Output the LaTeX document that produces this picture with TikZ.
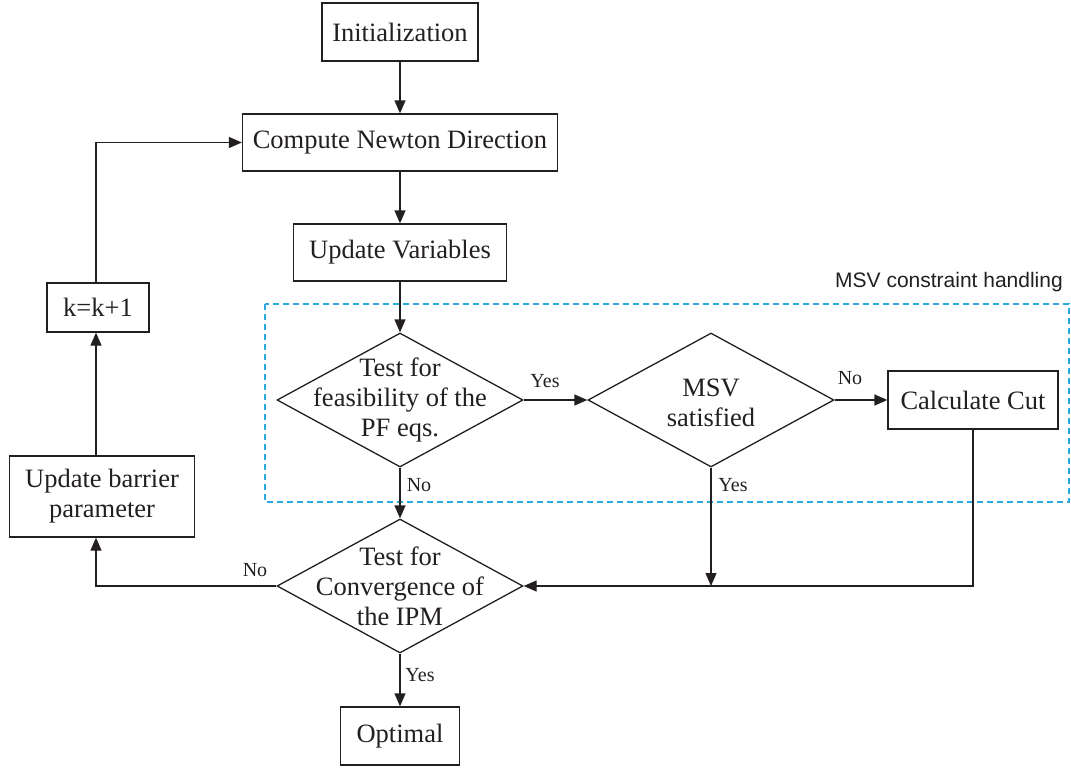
\documentclass[tikz,border=0pt]{standalone}
\usepackage{fontspec}
\setmainfont{Liberation Serif}
\newfontfamily\sansf{Liberation Sans}
\usetikzlibrary{shapes.geometric,arrows.meta}
\definecolor{ink}{HTML}{231F20}
\definecolor{dashc}{HTML}{29ABE2}
\begin{document}
\begin{tikzpicture}[x=1pt,y=-1pt,
 box/.style={draw=ink, line width=1.3pt, text=ink, font=\fontsize{26.5}{30}\selectfont, inner sep=0pt, align=center},
 dia/.style={draw=ink, line width=1.3pt, diamond, minimum width=246pt, minimum height=134pt, inner sep=0pt},
 dtext/.style={text=ink, font=\fontsize{26.5}{30}\selectfont, align=center, inner sep=0pt},
 lab/.style={text=ink, font=\fontsize{20}{22}\selectfont, inner sep=0pt},
 arr/.style={draw=ink, line width=1.3pt, -{Triangle[length=13pt,width=11pt]}},
 ln/.style={draw=ink, line width=1.3pt}]
\useasboundingbox (0,0) rectangle (1071,768);

% dashed region
\draw[dashc, line width=1.3pt, dash pattern=on 6pt off 4pt] (265,304) rectangle (1069,502);
\node[anchor=east, inner sep=0pt, font=\sansf\fontsize{21}{24}\selectfont, text=ink] (msvlab) at (1063,282) {MSV constraint handling};

% boxes
\node[box, minimum width=156pt, minimum height=58pt] (init) at (400,32) {Initialization};
\node[box, minimum width=315pt, minimum height=57pt] (comp) at (400,142.5) {Compute Newton Direction};
\node[box, minimum width=213pt, minimum height=57pt] (upd) at (400,252.5) {Update Variables};
\node[box, minimum width=170pt, minimum height=58pt] (cut) at (973,400) {Calculate Cut};
\node[box, minimum width=119pt, minimum height=58pt] (opt) at (400,736) {Optimal};
\node[box, minimum width=102pt, minimum height=49pt] (kbox) at (98,307.5) {k=k+1};
\node[box, minimum width=185pt, minimum height=81pt] (ubar) at (102,496.5) {Update barrier\\parameter};

% diamonds
\node[dia] (d1) at (400,400) {};
\node[dtext] (d1t) at (d1.center) {Test for\\feasibility of the\\PF eqs.};
\node[dia] (d2) at (711,400) {};
\node[dtext] (d2t) at ([yshift=-3pt]d2.center) {MSV\\satisfied};
\node[dia] (d3) at (400,586) {};
\node[dtext] (d3t) at (d3.center) {Test for\\Convergence of\\the IPM};

% coordinates
\coordinate (c1) at (96,586);

% connectors
\draw[arr] (init.south) -- (comp.north);
\draw[arr] (comp.south) -- (upd.north);
\draw[arr] (upd.south) -- (d1.north);
\draw[arr] (d1.east) -- (d2.west);
\draw[arr] (d2.east) -- (cut.west);
\draw[arr] (d1.south) -- (d3.north);
\draw[arr] (cut.south) -- (cut.south |- d3.east) -- (d3.east);
\draw[arr] (d2.south) -- (d2.south |- d3.east);
\draw[arr] (d3.south) -- (opt.north);
\draw[arr] (d3.west) -- (c1) -- (c1 |- ubar.south);
\draw[arr] (c1 |- ubar.north) -- (c1 |- kbox.south);
\draw[arr] (c1 |- kbox.north) -- (c1 |- comp.west) -- (comp.west);

% labels
\node[lab] (l1) at (545,381) {Yes};
\node[lab] (l2) at (850,378) {No};
\node[lab] (l3) at (419,485) {No};
\node[lab] (l4) at (733,485) {Yes};
\node[lab] (l5) at (420,675) {Yes};
\node[lab] (l6) at (255,570) {No};
\end{tikzpicture}
\end{document}
